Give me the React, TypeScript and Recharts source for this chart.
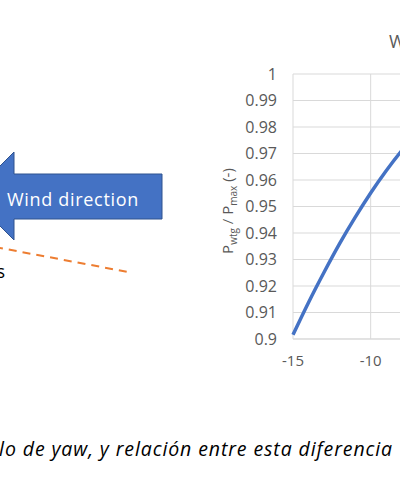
import React from "react";
import { LineChart, Line, XAxis, YAxis, CartesianGrid, Label } from "recharts";

// yaw misalignment (deg) and relative power
const yawAngles = [-15, -14, -13, -12, -11, -10, -9, -8, -7, -6, -5, -4, -3, -2, -1, 0, 1, 2, 3, 4, 5, 6, 7, 8, 9, 10, 11, 12, 13, 14, 15];
const powerRatio = [
  0.9016, 0.9138, 0.9252, 0.936, 0.9459, 0.9551, 0.9635, 0.9711, 0.9778, 0.9836, 0.9886, 0.9927, 0.9959, 0.9982, 0.9995,
  1.0,
  0.9995, 0.9982, 0.9959, 0.9927, 0.9886, 0.9836, 0.9778, 0.9711, 0.9635, 0.9551, 0.9459, 0.936, 0.9252, 0.9138, 0.9016,
];
const xTicks = [-15, -10, -5, 0, 5, 10, 15];
const yTicks = [0.9, 0.91, 0.92, 0.93, 0.94, 0.95, 0.96, 0.97, 0.98, 0.99, 1];

const chartTitle = "WTG power vs yaw misalignment";
const arrowText = "Wind direction";
const sideText = "Rotor axis";
const caption = "Figura: diferencia entre dirección del viento y ángulo de yaw, y relación entre esta diferencia";

const data = yawAngles.map((yaw, i) => ({ yaw, p: powerRatio[i] }));

const FONT = "'Open Sans', sans-serif";
const GRID = "#d9d9d9";
const TXT = "#595959";

function YTitle(props: any) {
  const { viewBox } = props;
  const cx = viewBox.x + 10;
  const cy = 211;
  return (
    <text
      x={cx}
      y={cy}
      transform={`rotate(-90 ${cx} ${cy})`}
      textAnchor="middle"
      fill={TXT}
      fontSize={15}
      fontFamily={FONT}
    >
      <tspan>P</tspan>
      <tspan fontSize={10} dy={4}>wtg</tspan>
      <tspan dy={-4}> / P</tspan>
      <tspan fontSize={10} dy={4}>max</tspan>
      <tspan dy={-4}> (-)</tspan>
    </text>
  );
}

export default function App() {
  return (
    <div
      style={{
        position: "fixed",
        left: 0,
        top: 0,
        width: 400,
        height: 479,
        overflow: "hidden",
        background: "#fff",
      }}
    >
      <div style={{ position: "absolute", left: 0, top: 0 }}>
        <LineChart
          width={800}
          height={479}
          data={data}
          margin={{ top: 74, right: 41, bottom: 110, left: 223 }}
        >
          <CartesianGrid stroke={GRID} strokeWidth={1} />
          <XAxis
            dataKey="yaw"
            type="number"
            domain={[-15, 15]}
            ticks={xTicks}
            height={30}
            stroke={GRID}
            tickLine={false}
            tickSize={6}
            tickMargin={10}
            tick={{ fill: TXT, fontSize: 15, fontFamily: FONT }}
          />
          <YAxis
            type="number"
            domain={[0.9, 1]}
            ticks={yTicks}
            width={70}
            axisLine={false}
            tickLine={false}
            tickSize={6}
            tickMargin={10}
            tick={{ fill: TXT, fontSize: 16, fontFamily: FONT }}
            tickFormatter={(v: number) => String(Number(v.toFixed(2)))}
          >
            <Label content={<YTitle />} />
          </YAxis>
          <Line
            type="natural"
            dataKey="p"
            stroke="#4472C4"
            strokeWidth={3.5}
            dot={false}
            isAnimationActive={false}
          />
        </LineChart>
      </div>
      <svg
        width={400}
        height={479}
        style={{ position: "absolute", left: 0, top: 0, pointerEvents: "none" }}
      >
        <text x={389} y={48} fill={TXT} fontSize={18} fontFamily={FONT}>
          {chartTitle}
        </text>
        <polygon
          points="-30,196 14,152 14,174 162,174 162,219 14,219 14,240"
          fill="#4472C4"
          stroke="#2F528F"
          strokeWidth={1}
        />
        <text
          x={73}
          y={206}
          textAnchor="middle"
          fill="#fff"
          fontSize={18}
          letterSpacing={0.7}
          fontFamily={FONT}
        >
          {arrowText}
        </text>
        <line
          x1={-5}
          y1={247}
          x2={128}
          y2={272}
          stroke="#ED7D31"
          strokeWidth={2}
          strokeDasharray="8 6"
        />
        <text x={5} y={278} textAnchor="end" fill="#000" fontSize={18} fontFamily={FONT}>
          {sideText}
        </text>
        <text
          x={393}
          y={456}
          textAnchor="end"
          fill="#000"
          fontSize={19.5}
          letterSpacing={0.9}
          fontStyle="italic"
          fontFamily={FONT}
        >
          {caption}
        </text>
      </svg>
    </div>
  );
}
